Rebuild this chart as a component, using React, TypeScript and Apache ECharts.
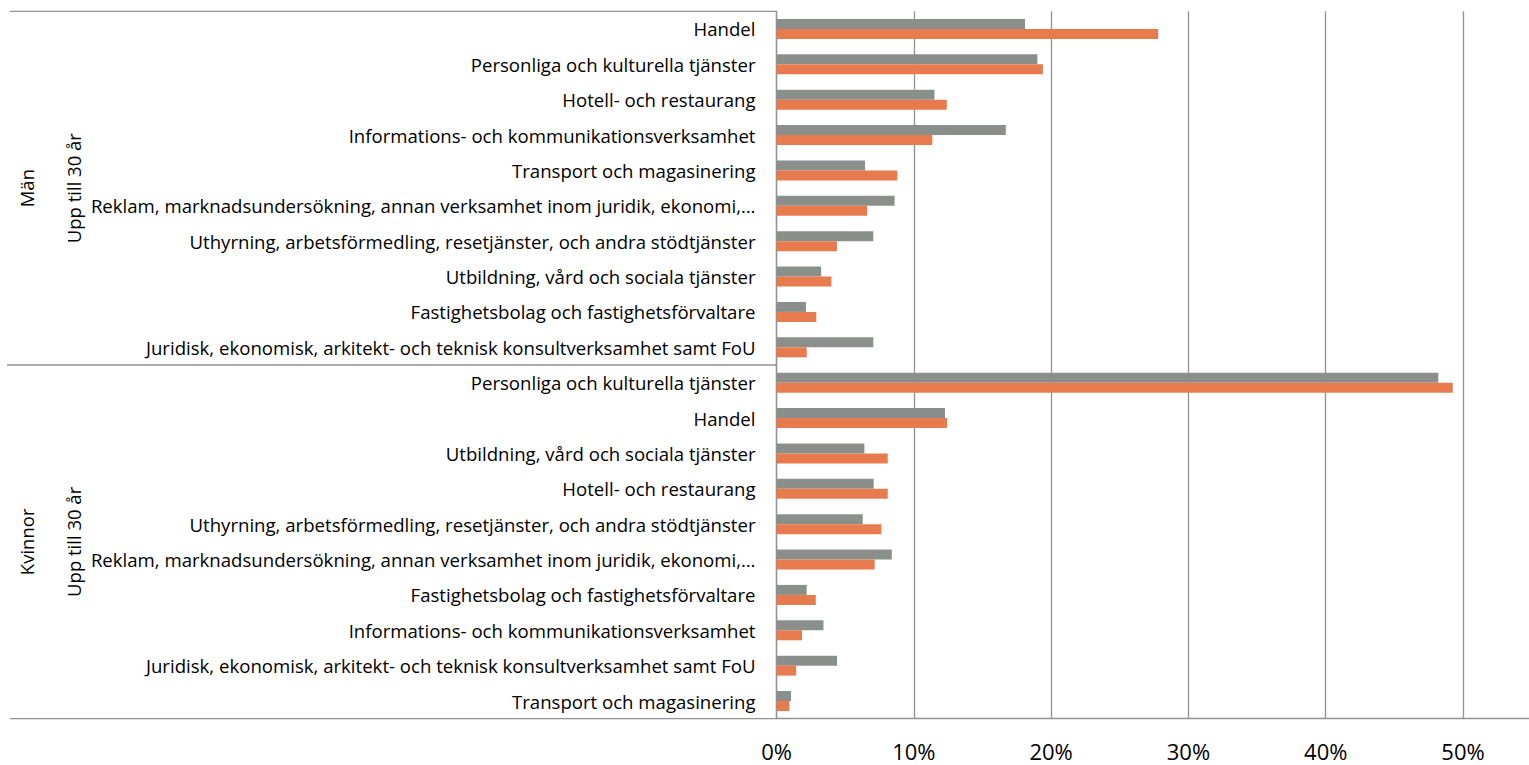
import React, { useEffect, useRef } from "react";
import * as echarts from "echarts";

const menCategories = [
  "Handel",
  "Personliga och kulturella tjänster",
  "Hotell- och restaurang",
  "Informations- och kommunikationsverksamhet",
  "Transport och magasinering",
  "Reklam, marknadsundersökning, annan verksamhet inom juridik, ekonomi,…",
  "Uthyrning, arbetsförmedling, resetjänster, och andra stödtjänster",
  "Utbildning, vård och sociala tjänster",
  "Fastighetsbolag och fastighetsförvaltare",
  "Juridisk, ekonomisk, arkitekt- och teknisk konsultverksamhet samt FoU",
];
const menGray = [18.1, 19.0, 11.5, 16.7, 6.45, 8.6, 7.05, 3.25, 2.15, 7.05];
const menOrange = [27.8, 19.4, 12.4, 11.35, 8.8, 6.6, 4.4, 4.0, 2.9, 2.2];

const womenCategories = [
  "Personliga och kulturella tjänster",
  "Handel",
  "Utbildning, vård och sociala tjänster",
  "Hotell- och restaurang",
  "Uthyrning, arbetsförmedling, resetjänster, och andra stödtjänster",
  "Reklam, marknadsundersökning, annan verksamhet inom juridik, ekonomi,…",
  "Fastighetsbolag och fastighetsförvaltare",
  "Informations- och kommunikationsverksamhet",
  "Juridisk, ekonomisk, arkitekt- och teknisk konsultverksamhet samt FoU",
  "Transport och magasinering",
];
const womenGray = [48.2, 12.27, 6.4, 7.08, 6.28, 8.4, 2.2, 3.42, 4.41, 1.06];
const womenOrange = [49.25, 12.42, 8.1, 8.1, 7.64, 7.15, 2.86, 1.86, 1.43, 0.94];

const outerGroups = ["Män", "Kvinnor"];
const innerGroup = "Upp till 30 år";
const seriesNames = ["Serie 1", "Serie 2"];

const FONT = "'Open Sans', sans-serif";
const LINE = "#929292";

export default function App() {
  const ref = useRef<HTMLDivElement>(null);
  useEffect(() => {
    if (!ref.current) return;
    const chart = echarts.init(ref.current, null, { renderer: "svg" });
    const categories = [...menCategories, ...womenCategories];
    const grayData = [...menGray, ...womenGray];
    const orangeData = [...menOrange, ...womenOrange];

    const gridLeft = 776.5;
    const gridTop = 11.3;
    const gridHeight = 707.4;
    const gridBottomY = gridTop + gridHeight;
    const midY = gridTop + gridHeight / 2;
    const menCenter = (gridTop + midY) / 2;
    const womenCenter = (midY + gridBottomY) / 2;

    const rotText = (text: string, x: number, y: number) => ({
      type: "text",
      x,
      y,
      rotation: Math.PI / 2,
      style: {
        text,
        fontFamily: FONT,
        fontSize: 18.5,
        fill: "#000",
        align: "center",
        verticalAlign: "middle",
      },
    });
    const hLine = (x1: number, x2: number, y: number) => ({
      type: "line",
      shape: { x1, y1: y, x2, y2: y },
      style: { stroke: LINE, lineWidth: 1.3 },
    });

    chart.setOption({
      animation: false,
      textStyle: { fontFamily: FONT },
      grid: {
        left: gridLeft,
        top: gridTop,
        width: 755.2,
        height: gridHeight,
        containLabel: false,
        outerBoundsMode: "none",
      },
      xAxis: {
        type: "value",
        min: 0,
        max: 55,
        interval: 10,
        axisLine: { show: true, lineStyle: { color: LINE, width: 1.3 } },
        axisTick: { show: false },
        splitLine: { show: true, lineStyle: { color: LINE, width: 1.3 } },
        axisLabel: {
          fontFamily: FONT,
          fontSize: 22,
          lineHeight: 22,
          color: "#000",
          margin: 21,
          showMaxLabel: false,
          formatter: (v: number) => (v > 50.5 ? "" : `${Math.round(v)}%`),
        },
      },
      yAxis: {
        type: "category",
        inverse: true,
        data: categories,
        axisLine: { show: true, lineStyle: { color: LINE, width: 1.3 } },
        axisTick: { show: false },
        splitLine: { show: false },
        axisLabel: {
          fontFamily: FONT,
          fontSize: 18.6,
          color: "#000",
          margin: 21,
          interval: 0,
        },
      },
      series: [
        {
          name: seriesNames[0],
          type: "bar",
          data: grayData,
          barWidth: 10,
          barGap: "0%",
          itemStyle: { color: "#8B8F8C" },
        },
        {
          name: seriesNames[1],
          type: "bar",
          data: orangeData,
          barWidth: 10,
          barGap: "0%",
          itemStyle: { color: "#E87B4D" },
        },
      ],
      graphic: [
        hLine(10, gridLeft, gridTop),
        hLine(7, gridLeft, midY),
        hLine(10, gridLeft, gridBottomY),
        rotText(outerGroups[0], 26, menCenter) as any,
        rotText(innerGroup, 73, menCenter) as any,
        rotText(outerGroups[1], 26, womenCenter) as any,
        rotText(innerGroup, 73, womenCenter) as any,
      ],
    });
    return () => chart.dispose();
  }, []);
  return (
    <div
      ref={ref}
      style={{ position: "absolute", left: 0, top: 0, width: 1529, height: 765 }}
    />
  );
}
